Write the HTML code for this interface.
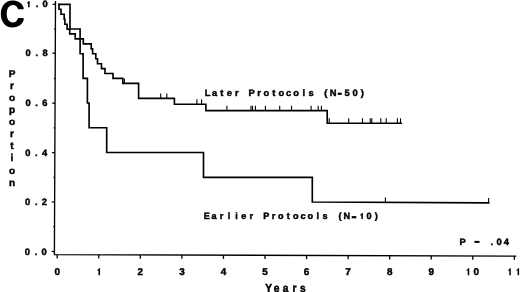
<!DOCTYPE html>
<html><head><meta charset="utf-8"><style>
html,body{margin:0;padding:0;background:#fff;}
body{width:520px;height:292px;overflow:hidden;}
svg{display:block;font-family:"Liberation Sans", sans-serif;text-rendering:geometricPrecision;filter:blur(0.35px);}
</style></head><body>
<svg width="520" height="292" viewBox="0 0 520 292" fill="#000">
<path d="M23.6 7.6C22.0 3.0 17.8 0.5 12.3 0.5C5.6 0.5 0.8 6.2 0.8 14C0.8 22.2 5.6 27.5 12.3 27.5C17.8 27.5 22.2 24.6 23.6 20.3V18.0H18.1C17.2 20.9 15.3 22.6 12.8 22.6C9.0 22.6 6.7 19.0 6.7 13.85C6.7 8.6 9.0 5.1 12.8 5.1C15.3 5.1 17.3 6.6 18.1 9.3H23.6Z"/>
<path d="M55.5 1 L54.4 254.6 L516.3 256.1" fill="none" stroke="#000" stroke-width="1.35"/>
<line x1="52.69" y1="4.30" x2="55.49" y2="4.30" stroke="#000" stroke-width="1.3"/>
<g font-size="9.3" font-weight="bold" text-anchor="middle" stroke="#000" stroke-width="0.45"><text x="37.00" y="7.35">.</text><text x="45.20" y="7.35">0</text></g><path d="M28.15 7.35H29.65V1.05H28.50C28.15 2.05 27.60 2.55 27.05 2.65V3.75C27.80 3.65 28.05 3.25 28.15 3.05Z"/>
<line x1="52.47" y1="53.20" x2="55.27" y2="53.20" stroke="#000" stroke-width="1.3"/>
<g font-size="9.3" font-weight="bold" text-anchor="middle" stroke="#000" stroke-width="0.45"><text x="28.20" y="56.25">0</text><text x="36.80" y="56.25">.</text><text x="45.00" y="56.25">8</text></g>
<line x1="52.26" y1="103.20" x2="55.06" y2="103.20" stroke="#000" stroke-width="1.3"/>
<g font-size="9.3" font-weight="bold" text-anchor="middle" stroke="#000" stroke-width="0.45"><text x="28.00" y="106.25">0</text><text x="36.60" y="106.25">.</text><text x="44.80" y="106.25">6</text></g>
<line x1="52.04" y1="152.60" x2="54.84" y2="152.60" stroke="#000" stroke-width="1.3"/>
<g font-size="9.3" font-weight="bold" text-anchor="middle" stroke="#000" stroke-width="0.45"><text x="27.80" y="155.65">0</text><text x="36.40" y="155.65">.</text><text x="44.60" y="155.65">4</text></g>
<line x1="51.83" y1="202.00" x2="54.63" y2="202.00" stroke="#000" stroke-width="1.3"/>
<g font-size="9.3" font-weight="bold" text-anchor="middle" stroke="#000" stroke-width="0.45"><text x="27.60" y="205.05">0</text><text x="36.20" y="205.05">.</text><text x="44.40" y="205.05">2</text></g>
<line x1="51.61" y1="251.50" x2="54.41" y2="251.50" stroke="#000" stroke-width="1.3"/>
<g font-size="9.3" font-weight="bold" text-anchor="middle" stroke="#000" stroke-width="0.45"><text x="27.40" y="254.55">0</text><text x="36.00" y="254.55">.</text><text x="44.20" y="254.55">0</text></g>
<line x1="53.22" y1="226.70" x2="54.52" y2="226.70" stroke="#000" stroke-width="1.2"/>
<line x1="53.43" y1="177.30" x2="54.73" y2="177.30" stroke="#000" stroke-width="1.2"/>
<line x1="53.65" y1="127.90" x2="54.95" y2="127.90" stroke="#000" stroke-width="1.2"/>
<line x1="53.86" y1="78.50" x2="55.16" y2="78.50" stroke="#000" stroke-width="1.2"/>
<line x1="54.08" y1="29.10" x2="55.38" y2="29.10" stroke="#000" stroke-width="1.2"/>
<line x1="57.20" y1="254.61" x2="57.20" y2="258.41" stroke="#000" stroke-width="1.3"/>
<g font-size="9.9" font-weight="bold" text-anchor="middle" stroke="#000" stroke-width="0.45"><text x="57.20" y="275.20">0</text></g>
<line x1="98.76" y1="254.74" x2="98.76" y2="258.54" stroke="#000" stroke-width="1.3"/>
<g font-size="9.9" font-weight="bold" text-anchor="middle" stroke="#000" stroke-width="0.45"></g><path d="M98.51 275.20H100.01V268.20H98.86C98.51 269.20 97.96 269.70 97.41 269.80V270.90C98.16 270.80 98.41 270.40 98.51 270.20Z"/>
<line x1="140.32" y1="254.88" x2="140.32" y2="258.68" stroke="#000" stroke-width="1.3"/>
<g font-size="9.9" font-weight="bold" text-anchor="middle" stroke="#000" stroke-width="0.45"><text x="140.32" y="275.20">2</text></g>
<line x1="181.88" y1="255.01" x2="181.88" y2="258.81" stroke="#000" stroke-width="1.3"/>
<g font-size="9.9" font-weight="bold" text-anchor="middle" stroke="#000" stroke-width="0.45"><text x="181.88" y="275.20">3</text></g>
<line x1="223.44" y1="255.15" x2="223.44" y2="258.95" stroke="#000" stroke-width="1.3"/>
<g font-size="9.9" font-weight="bold" text-anchor="middle" stroke="#000" stroke-width="0.45"><text x="223.44" y="275.20">4</text></g>
<line x1="265.00" y1="255.28" x2="265.00" y2="259.08" stroke="#000" stroke-width="1.3"/>
<g font-size="9.9" font-weight="bold" text-anchor="middle" stroke="#000" stroke-width="0.45"><text x="265.00" y="275.20">5</text></g>
<line x1="306.56" y1="255.42" x2="306.56" y2="259.22" stroke="#000" stroke-width="1.3"/>
<g font-size="9.9" font-weight="bold" text-anchor="middle" stroke="#000" stroke-width="0.45"><text x="306.56" y="275.20">6</text></g>
<line x1="348.12" y1="255.55" x2="348.12" y2="259.35" stroke="#000" stroke-width="1.3"/>
<g font-size="9.9" font-weight="bold" text-anchor="middle" stroke="#000" stroke-width="0.45"><text x="348.12" y="275.20">7</text></g>
<line x1="389.68" y1="255.69" x2="389.68" y2="259.49" stroke="#000" stroke-width="1.3"/>
<g font-size="9.9" font-weight="bold" text-anchor="middle" stroke="#000" stroke-width="0.45"><text x="389.68" y="275.20">8</text></g>
<line x1="431.24" y1="255.82" x2="431.24" y2="259.62" stroke="#000" stroke-width="1.3"/>
<g font-size="9.9" font-weight="bold" text-anchor="middle" stroke="#000" stroke-width="0.45"><text x="431.24" y="275.20">9</text></g>
<line x1="472.80" y1="255.96" x2="472.80" y2="259.76" stroke="#000" stroke-width="1.3"/>
<g font-size="9.9" font-weight="bold" text-anchor="middle" stroke="#000" stroke-width="0.45"><text x="476.30" y="275.20">0</text></g><path d="M467.75 275.20H469.25V268.20H468.10C467.75 269.20 467.20 269.70 466.65 269.80V270.90C467.40 270.80 467.65 270.40 467.75 270.20Z"/>
<line x1="514.36" y1="256.09" x2="514.36" y2="259.89" stroke="#000" stroke-width="1.3"/>
<g font-size="9.9" font-weight="bold" text-anchor="middle" stroke="#000" stroke-width="0.45"></g><path d="M509.31 275.20H510.81V268.20H509.66C509.31 269.20 508.76 269.70 508.21 269.80V270.90C508.96 270.80 509.21 270.40 509.31 270.20Z"/><path d="M517.61 275.20H519.11V268.20H517.96C517.61 269.20 517.06 269.70 516.51 269.80V270.90C517.26 270.80 517.51 270.40 517.61 270.20Z"/>
<g font-size="10" font-weight="bold" text-anchor="middle" stroke="#000" stroke-width="0.45"><text x="12" y="76.70">P</text><text x="12" y="88.80">r</text><text x="12" y="100.90">o</text><text x="12" y="113.00">p</text><text x="12" y="125.10">o</text><text x="12" y="137.20">r</text><text x="12" y="149.30">t</text><text x="12" y="161.40">i</text><text x="12" y="173.50">o</text><text x="12" y="185.60">n</text></g>
<g transform="translate(0,292.3) scale(1,1.15)"><g font-size="10.2" font-weight="bold" text-anchor="middle" stroke="#000" stroke-width="0.45"><text x="268.60" y="0.00">Y</text><text x="276.60" y="0.00">e</text><text x="285.50" y="0.00">a</text><text x="294.60" y="0.00">r</text><text x="302.80" y="0.00">s</text></g></g>
<g font-size="9.3" font-weight="bold" text-anchor="middle" stroke="#000" stroke-width="0.45"><text x="207.60" y="95.70">L</text><text x="214.60" y="95.70">a</text><text x="221.70" y="95.70">t</text><text x="229.30" y="95.70">e</text><text x="236.90" y="95.70">r</text><text x="251.50" y="95.70">P</text><text x="259.10" y="95.70">r</text><text x="266.30" y="95.70">o</text><text x="273.70" y="95.70">t</text><text x="281.40" y="95.70">o</text><text x="288.60" y="95.70">c</text><text x="296.10" y="95.70">o</text><text x="303.90" y="95.70">l</text><text x="311.00" y="95.70">s</text><text x="325.80" y="95.70">(</text><text x="333.00" y="95.70">N</text><text x="347.10" y="95.70">5</text><text x="355.20" y="95.70">0</text><text x="362.40" y="95.70">)</text></g><rect x="337.70" y="92.70" width="4.00" height="2.20"/>
<g font-size="9.1" font-weight="bold" text-anchor="middle" stroke="#000" stroke-width="0.45"><text x="206.90" y="219.10">E</text><text x="214.00" y="219.10">a</text><text x="221.40" y="219.10">r</text><text x="229.00" y="219.10">l</text><text x="236.40" y="219.10">i</text><text x="243.80" y="219.10">e</text><text x="251.30" y="219.10">r</text><text x="266.20" y="219.10">P</text><text x="273.50" y="219.10">r</text><text x="280.80" y="219.10">o</text><text x="288.30" y="219.10">t</text><text x="295.70" y="219.10">o</text><text x="303.10" y="219.10">c</text><text x="310.20" y="219.10">o</text><text x="317.70" y="219.10">l</text><text x="325.00" y="219.10">s</text><text x="340.00" y="219.10">(</text><text x="346.90" y="219.10">N</text><text x="369.10" y="219.10">0</text><text x="376.20" y="219.10">)</text></g><rect x="351.70" y="216.10" width="4.60" height="2.20"/><path d="M361.35 219.10H362.85V213.00H361.70C361.35 214.00 360.80 214.50 360.25 214.60V215.70C361.00 215.60 361.25 215.20 361.35 215.00Z"/>
<g font-size="9.3" font-weight="bold" text-anchor="middle" stroke="#000" stroke-width="0.45"><text x="462.50" y="244.80">P</text><text x="491.70" y="244.80">.</text><text x="499.00" y="244.80">0</text><text x="506.30" y="244.80">4</text></g><rect x="474.50" y="240.90" width="5.00" height="2.00"/>
<path d="M59.0 4.4 L59.0 9.2 L61.0 9.2 L61.0 14.2 L64.2 14.2 L64.2 19.2 L64.9 19.2 L64.9 24.2 L67.1 24.2 L67.1 29.1 L69.7 29.1 L69.7 33.9 L75.2 33.9 L75.2 38.8 L83.3 38.8 L83.3 43.8 L91.2 43.8 L91.2 48.8 L92.6 48.8 L92.6 53.7 L95.8 53.7 L95.8 58.7 L97.5 58.7 L97.5 63.7 L101.5 63.7 L101.5 68.6 L105.0 68.6 L105.0 73.5 L113.0 73.5 L113.0 78.4 L122.8 78.4 L122.8 83.3 L138.6 83.3 L138.6 98.3 L174.4 98.3 L174.4 104.2 L205.9 104.2 L205.9 110.6 L327.2 110.6 L327.2 123.2 L401.3 123.2" fill="none" stroke="#000" stroke-width="1.65" stroke-linejoin="miter" stroke-linecap="square"/>
<path d="M59.0 4.4 L70.0 4.4 L70.0 29.0 L80.1 29.0 L80.1 53.7 L83.1 53.7 L83.1 78.4 L87.4 78.4 L87.4 103.0 L89.1 103.0 L89.1 127.7 L106.7 127.7 L106.7 152.5 L203.5 152.5 L203.5 177.3 L312.3 177.3 L312.3 202.0 L488.7 202.8" fill="none" stroke="#000" stroke-width="1.65" stroke-linejoin="miter" stroke-linecap="square"/>
<line x1="124.4" y1="83.3" x2="124.4" y2="78.4" stroke="#000" stroke-width="1.1"/>
<line x1="160.7" y1="98.3" x2="160.7" y2="93.4" stroke="#000" stroke-width="1.1"/>
<line x1="166.8" y1="98.3" x2="166.8" y2="93.4" stroke="#000" stroke-width="1.1"/>
<line x1="196.9" y1="104.2" x2="196.9" y2="99.3" stroke="#000" stroke-width="1.1"/>
<line x1="201.6" y1="104.2" x2="201.6" y2="99.3" stroke="#000" stroke-width="1.1"/>
<line x1="226.9" y1="110.6" x2="226.9" y2="105.7" stroke="#000" stroke-width="1.1"/>
<line x1="251.0" y1="110.6" x2="251.0" y2="105.7" stroke="#000" stroke-width="1.1"/>
<line x1="252.5" y1="110.6" x2="252.5" y2="105.7" stroke="#000" stroke-width="1.1"/>
<line x1="255.4" y1="110.6" x2="255.4" y2="105.7" stroke="#000" stroke-width="1.1"/>
<line x1="265.4" y1="110.6" x2="265.4" y2="105.7" stroke="#000" stroke-width="1.1"/>
<line x1="279.7" y1="110.6" x2="279.7" y2="105.7" stroke="#000" stroke-width="1.1"/>
<line x1="291.5" y1="110.6" x2="291.5" y2="105.7" stroke="#000" stroke-width="1.1"/>
<line x1="311.1" y1="110.6" x2="311.1" y2="105.7" stroke="#000" stroke-width="1.1"/>
<line x1="318.2" y1="110.6" x2="318.2" y2="105.7" stroke="#000" stroke-width="1.1"/>
<line x1="321.4" y1="110.6" x2="321.4" y2="105.7" stroke="#000" stroke-width="1.1"/>
<line x1="329.2" y1="123.2" x2="329.2" y2="118.3" stroke="#000" stroke-width="1.1"/>
<line x1="348.7" y1="123.2" x2="348.7" y2="118.3" stroke="#000" stroke-width="1.1"/>
<line x1="362.5" y1="123.2" x2="362.5" y2="118.3" stroke="#000" stroke-width="1.1"/>
<line x1="370.3" y1="123.2" x2="370.3" y2="118.3" stroke="#000" stroke-width="1.1"/>
<line x1="371.8" y1="123.2" x2="371.8" y2="118.3" stroke="#000" stroke-width="1.1"/>
<line x1="380.8" y1="123.2" x2="380.8" y2="118.3" stroke="#000" stroke-width="1.1"/>
<line x1="386.2" y1="123.2" x2="386.2" y2="118.3" stroke="#000" stroke-width="1.1"/>
<line x1="397.4" y1="123.2" x2="397.4" y2="118.3" stroke="#000" stroke-width="1.1"/>
<line x1="400.5" y1="123.2" x2="400.5" y2="118.3" stroke="#000" stroke-width="1.1"/>
<line x1="385.4" y1="202.35" x2="385.4" y2="197.4" stroke="#000" stroke-width="1.1"/>
<line x1="488.6" y1="202.8" x2="488.6" y2="197.9" stroke="#000" stroke-width="1.1"/>
</svg>
</body></html>
